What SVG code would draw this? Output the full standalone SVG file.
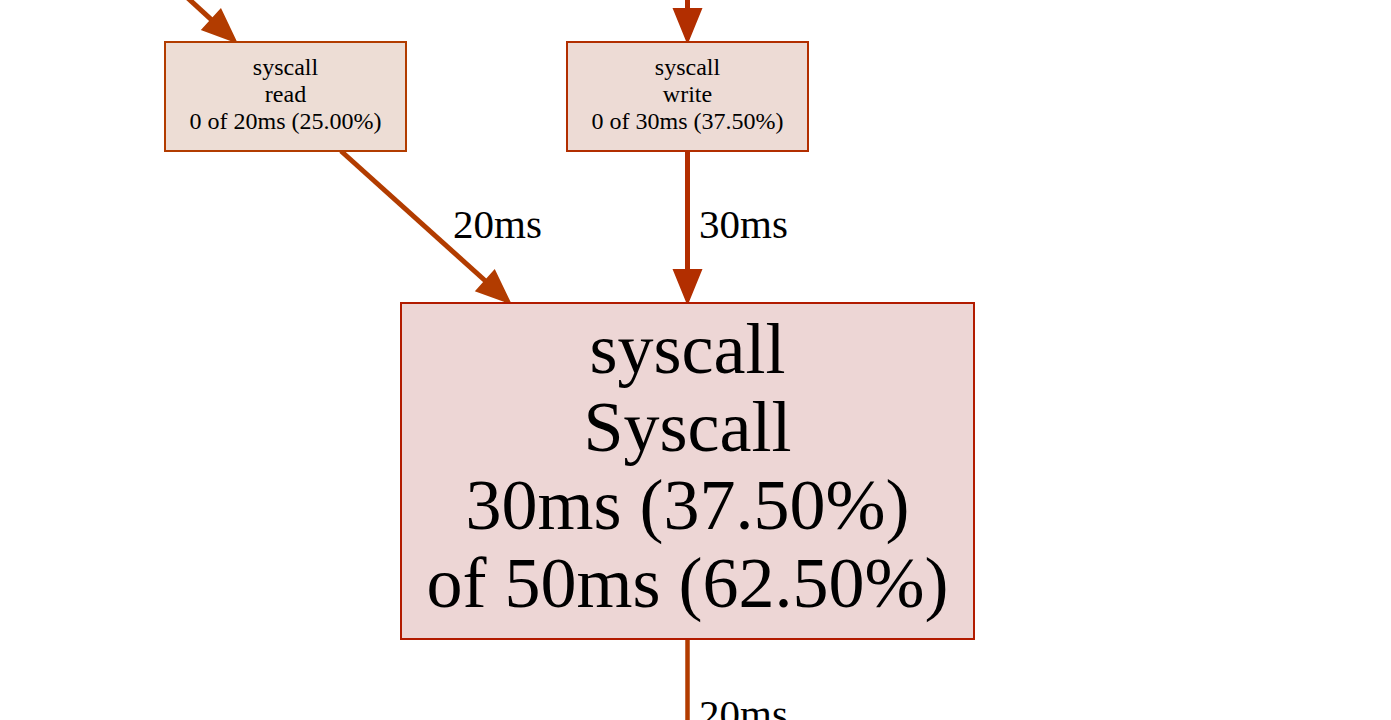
<svg xmlns="http://www.w3.org/2000/svg" width="1391" height="720" viewBox="0 0 1391 720">
<style>
text{font-family:"Liberation Serif","Times New Roman",serif;fill:#000;text-anchor:middle}
.small{font-size:24px}
.big{font-size:72px}
.elabel{font-size:41px;text-anchor:start}
.e1{stroke:#b23c00;stroke-width:5;fill:none}
.e2{stroke:#b22e00;stroke-width:5;fill:none}
.e3{stroke:#b23c00;stroke-width:4.5;fill:none}
.h1{fill:#b23c00;stroke:#b23c00;stroke-width:2}
.h2{fill:#b22e00;stroke:#b22e00;stroke-width:2}
</style>
<rect width="1391" height="720" fill="#ffffff"/>
<g id="connectors">
<line class="e1" x1="168" y1="-20" x2="211.6" y2="19.8"/>
<polygon class="h1" points="202.5,29.7 220.7,9.8 236,42"/>
<line class="e2" x1="687.5" y1="-5" x2="687.5" y2="10"/>
<polygon class="h2" points="674,9 701,9 687.5,42"/>
<line class="e1" x1="341" y1="151" x2="485.5" y2="281"/>
<polygon class="h1" points="476.5,290.9 494.5,270.9 510,303"/>
<text class="elabel" x="453" y="238">20ms</text>
<line class="e2" x1="687.5" y1="151" x2="687.5" y2="271"/>
<polygon class="h2" points="674,270 701,270 687.5,303"/>
<text class="elabel" x="699" y="238">30ms</text>
<line class="e3" x1="687.5" y1="639" x2="687.5" y2="730"/>
<text class="elabel" x="699" y="728">20ms</text>
</g>
<g id="node-read">
<rect x="165" y="42" width="241" height="109" fill="#edddd5" stroke="#b23c00" stroke-width="2"/>
<text class="small" x="285.5" y="75">syscall</text>
<text class="small" x="285.5" y="102">read</text>
<text class="small" x="285.5" y="129">0 of 20ms (25.00%)</text>
</g>
<g id="node-write">
<rect x="567" y="42" width="241" height="109" fill="#eddbd5" stroke="#b22e00" stroke-width="2"/>
<text class="small" x="687.5" y="75">syscall</text>
<text class="small" x="687.5" y="102">write</text>
<text class="small" x="687.5" y="129">0 of 30ms (37.50%)</text>
</g>
<g id="node-Syscall">
<rect x="401" y="303" width="573" height="336" fill="#edd6d5" stroke="#b21b00" stroke-width="2"/>
<text class="big" x="687.5" y="373">syscall</text>
<text class="big" x="687.5" y="451">Syscall</text>
<text class="big" x="687.5" y="529">30ms (37.50%)</text>
<text class="big" x="687.5" y="607">of 50ms (62.50%)</text>
</g>
</svg>
